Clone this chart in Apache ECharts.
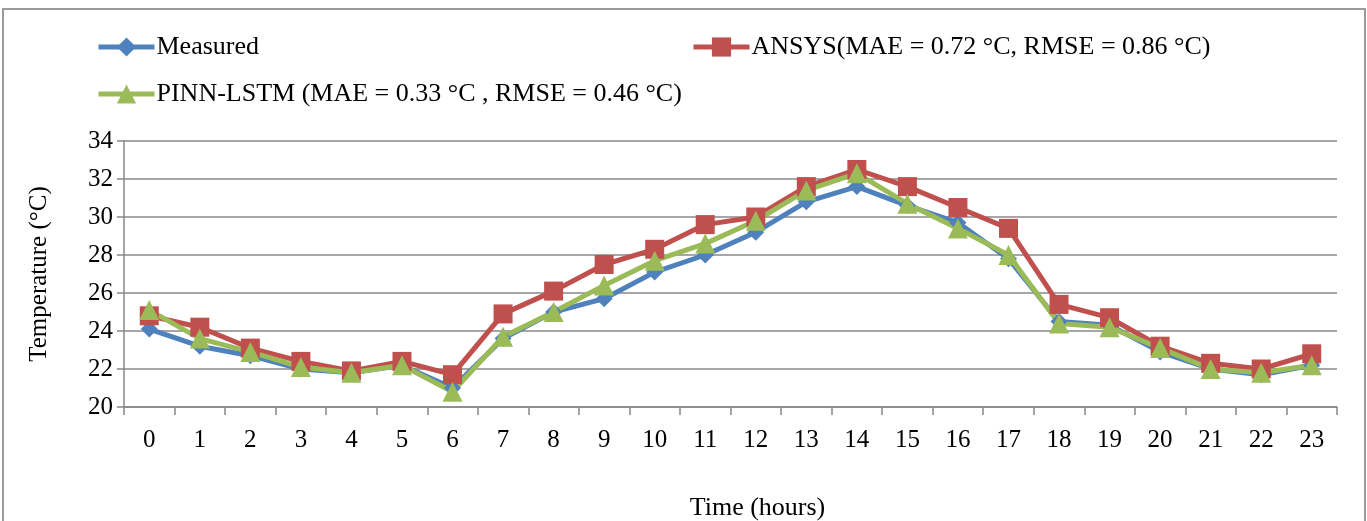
<!DOCTYPE html>
<html>
<head>
<meta charset="utf-8">
<script src="https://cdn.jsdelivr.net/npm/echarts@6/dist/echarts.min.js"></script>
<style>
  html, body { margin: 0; padding: 0; background: #fff; }
  #chart { width: 1367px; height: 521px; }
</style>
</head>
<body>
<div id="chart"></div>
<script>
const hours = ['0','1','2','3','4','5','6','7','8','9','10','11','12','13','14','15','16','17','18','19','20','21','22','23']
const measured = [24.1, 23.2, 22.7, 22.0, 21.8, 22.2, 21.0, 23.6, 25.0, 25.7, 27.1, 28.0, 29.2, 30.8, 31.6, 30.6, 29.7, 27.8, 24.5, 24.3, 22.9, 22.0, 21.7, 22.2]
const ansys = [24.8, 24.2, 23.1, 22.4, 21.9, 22.4, 21.7, 24.9, 26.1, 27.5, 28.3, 29.6, 30.0, 31.6, 32.5, 31.6, 30.5, 29.4, 25.4, 24.7, 23.2, 22.3, 22.0, 22.8]
const pinn = [25.1, 23.6, 22.9, 22.1, 21.8, 22.2, 20.8, 23.7, 25.0, 26.4, 27.7, 28.6, 29.8, 31.4, 32.3, 30.7, 29.4, 28.0, 24.4, 24.2, 23.1, 22.0, 21.8, 22.2]
const yTicks = { min: 20, max: 34, step: 2 }

const names = [
  'Measured',
  'ANSYS(MAE = 0.72 °C, RMSE = 0.86 °C)',
  'PINN-LSTM (MAE = 0.33 °C , RMSE = 0.46 °C)'
]

const font = "'Liberation Serif', 'Times New Roman', serif"
const myChart = echarts.init(document.getElementById('chart'))

// one legend per item so each can sit where the original has it
function legendAt(name, left, top) {
  return {
    data: [name],
    left: left,
    top: top,
    itemWidth: 56,
    itemHeight: 24,
    itemGap: 0,
    lineStyle: { width: 5 },
    textStyle: { fontFamily: font, fontSize: 26, color: '#000', padding: [0, 0, 0, -3] }
  }
}

const option = {
  animation: false,
  backgroundColor: '#fff',
  graphic: [{
    type: 'rect',
    shape: { x: 3, y: 9, width: 1362, height: 530 },
    style: { fill: null, stroke: '#9a9a9a', lineWidth: 2 },
    silent: true
  }],
  legend: [
    legendAt(names[0], 91, 29),
    legendAt(names[1], 686, 29),
    legendAt(names[2], 91, 76)
  ],
  grid: { left: 124, right: 30, top: 141, bottom: 114, outerBoundsMode: 'none' },
  xAxis: {
    type: 'category',
    data: hours,
    boundaryGap: true,
    name: 'Time (hours)',
    nameLocation: 'middle',
    nameGap: 88,
    // the title sits a little right of the plot centre in the original
    nameTextStyle: { fontFamily: font, fontSize: 26, color: '#000', padding: [0, 0, 0, 54] },
    axisLine: { lineStyle: { color: '#888', width: 1.5 } },
    axisTick: { show: true, length: 8, alignWithLabel: false, lineStyle: { color: '#888', width: 1.5 } },
    axisLabel: { fontFamily: font, fontSize: 25, color: '#000', margin: 21 }
  },
  yAxis: {
    type: 'value',
    min: yTicks.min,
    max: yTicks.max,
    interval: yTicks.step,
    name: 'Temperature (°C)',
    nameLocation: 'middle',
    nameGap: 72,
    nameRotate: 90,
    nameTextStyle: { fontFamily: font, fontSize: 25, color: '#000' },
    axisLine: { show: true, lineStyle: { color: '#888', width: 1.5 } },
    axisTick: { show: true, length: 7, lineStyle: { color: '#888', width: 1.5 } },
    axisLabel: { fontFamily: font, fontSize: 25, color: '#000', margin: 11 },
    splitLine: { lineStyle: { color: '#888', width: 1.5 } }
  },
  series: [
    {
      name: names[0],
      type: 'line',
      data: measured,
      symbol: 'diamond',
      symbolSize: 17,
      color: '#4F81BD',
      lineStyle: { width: 5 }
    },
    {
      name: names[1],
      type: 'line',
      data: ansys,
      symbol: 'rect',
      symbolSize: 19,
      color: '#C0504D',
      lineStyle: { width: 5 }
    },
    {
      name: names[2],
      type: 'line',
      data: pinn,
      symbol: 'triangle',
      symbolSize: 20,
      color: '#9BBB59',
      lineStyle: { width: 5 }
    }
  ]
}

option && myChart.setOption(option)
window.addEventListener('resize', myChart.resize)
</script>
</body>
</html>
